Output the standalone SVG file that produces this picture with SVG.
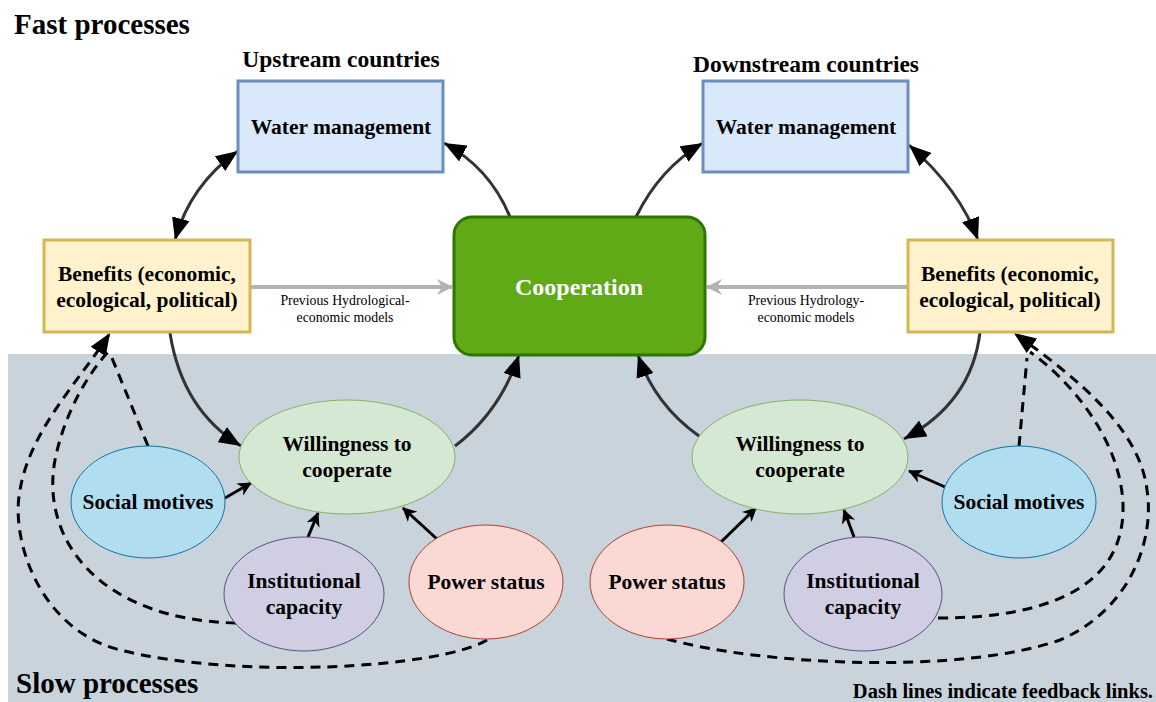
<svg xmlns="http://www.w3.org/2000/svg" width="1156" height="702" viewBox="0 0 1156 702">
<style>
text{font-family:"Liberation Serif","Times New Roman",serif;font-weight:bold;fill:#000;text-anchor:middle}
.h{font-size:29px;text-anchor:start}
.sub{font-size:23.5px}
.t{font-size:21.5px}
.sm{font-size:13.8px;font-weight:normal}
.wm{fill:#dae8fc;stroke:#6c8ebf;stroke-width:3}
.bn{fill:#fff2cc;stroke:#d6b656;stroke-width:3}
.wi{fill:#d5e8d4;stroke:#82b366;stroke-width:1}
.so{fill:#b1ddf0;stroke:#10739e;stroke-width:1}
.in{fill:#d0cee2;stroke:#56517e;stroke-width:1}
.po{fill:#fad9d5;stroke:#ae4132;stroke-width:1}
.c{fill:none;stroke:#333;stroke-width:3}
.s{fill:none;stroke:#000;stroke-width:3}
.d{fill:none;stroke:#000;stroke-width:3;stroke-dasharray:10 7}
.g{fill:none;stroke:#b3b3b3;stroke-width:4}
</style>
<defs>
<marker id="big" markerUnits="userSpaceOnUse" markerWidth="22" markerHeight="18" refX="22" refY="9" orient="auto-start-reverse"><path d="M0,0 L22,9 L0,18 z" fill="#000"/></marker>
<marker id="cls" markerUnits="userSpaceOnUse" markerWidth="14" markerHeight="14" refX="13" refY="7" orient="auto"><path d="M0,0 L14,7 L0,14 L4,7 z" fill="#000"/></marker>
<marker id="gry" markerUnits="userSpaceOnUse" markerWidth="16" markerHeight="16" refX="15" refY="8" orient="auto"><path d="M0,0 L16,8 L0,16 L5,8 z" fill="#b3b3b3"/></marker>
</defs>
<rect x="8" y="354" width="1148" height="348" fill="#c8d3dc"/>
<text class="h" x="14" y="34">Fast processes</text>
<text class="h" x="16" y="693">Slow processes</text>
<text class="sub" x="341" y="67">Upstream countries</text>
<text class="sub" x="806" y="72">Downstream countries</text>
<text x="1153" y="698" style="font-size:20.5px;text-anchor:end">Dash lines indicate feedback links.</text>

<g id="connectors">
<path class="c" d="M175 240 Q190 185 238 151" marker-start="url(#big)" marker-end="url(#big)"/>
<path class="c" d="M510 217 Q490 168 444 143" marker-end="url(#big)"/>
<path class="c" d="M636 217 Q660 168 703 143" marker-end="url(#big)"/>
<path class="c" d="M909 145 Q960 190 978 240" marker-start="url(#big)" marker-end="url(#big)"/>
<path class="c" d="M170 333 Q182 410 241 446" marker-end="url(#big)"/>
<path class="c" d="M455 446 Q500 412 519 355" marker-end="url(#big)"/>
<path class="c" d="M699 436 Q655 405 638 355" marker-end="url(#big)"/>
<path class="c" d="M980 332 Q972 402 904 439" marker-end="url(#big)"/>
<path class="g" d="M250 287 L452 287" marker-end="url(#gry)"/>
<path class="g" d="M908 287 L707 287" marker-end="url(#gry)"/>
<text class="sm" x="345" y="305">Previous Hydrological-</text>
<text class="sm" x="345" y="322">economic models</text>
<text class="sm" x="806" y="305">Previous Hydrology-</text>
<text class="sm" x="806" y="322">economic models</text>
<path class="s" d="M225 498 L251 483" marker-end="url(#cls)"/>
<path class="s" d="M308 537 L318 513" marker-end="url(#cls)"/>
<path class="s" d="M437 539 L403 508" marker-end="url(#cls)"/>
<path class="s" d="M945 487 L909 471" marker-end="url(#cls)"/>
<path class="s" d="M854 537 L844 510" marker-end="url(#cls)"/>
<path class="s" d="M721 542 L756 508" marker-end="url(#cls)"/>
<path class="d" d="M148 446 L112 358"/>
<path class="d" d="M236 623 C100 620 40 540 55 460 C65 410 90 372 108 352"/>
<path class="d" d="M487 640 C440 668 240 680 120 650 C40 630 10 540 20 490 C30 430 80 380 110 333" marker-end="url(#big)"/>
<path class="d" d="M1019 446 L1027 358"/>
<path class="d" d="M938 618 C1060 618 1125 580 1123 505 C1121 440 1070 380 1030 352"/>
<path class="d" d="M667 639 C760 665 960 675 1060 640 C1130 610 1155 540 1147 490 C1140 430 1080 380 1014 333" marker-end="url(#big)"/>
</g>

<g id="wm-up"><rect class="wm" x="238" y="81" width="205" height="91"/><text class="t" x="341" y="134">Water management</text></g>
<g id="wm-down"><rect class="wm" x="703" y="81" width="205" height="91"/><text class="t" x="806" y="134">Water management</text></g>
<g id="ben-up"><rect class="bn" x="44" y="240" width="206" height="92"/><text class="t" x="147" y="281">Benefits (economic,</text><text class="t" x="147" y="307">ecological, political)</text></g>
<g id="ben-down"><rect class="bn" x="908" y="240" width="205" height="92"/><text class="t" x="1010" y="281">Benefits (economic,</text><text class="t" x="1010" y="307">ecological, political)</text></g>
<g id="coop"><rect x="454" y="217" width="251" height="138" rx="18" fill="#60a917" stroke="#2d7600" stroke-width="3"/><text x="579" y="295" style="font-size:24px;fill:#fff">Cooperation</text></g>
<g id="will-up"><ellipse class="wi" cx="347" cy="457" rx="108" ry="57"/><text class="t" x="347" y="451">Willingness to</text><text class="t" x="347" y="477">cooperate</text></g>
<g id="will-down"><ellipse class="wi" cx="800" cy="457" rx="108" ry="57"/><text class="t" x="800" y="451">Willingness to</text><text class="t" x="800" y="477">cooperate</text></g>
<g id="soc-up"><ellipse class="so" cx="148" cy="502" rx="77" ry="56"/><text class="t" x="148" y="509">Social motives</text></g>
<g id="soc-down"><ellipse class="so" cx="1019" cy="502" rx="77" ry="56"/><text class="t" x="1019" y="509">Social motives</text></g>
<g id="inst-up"><ellipse class="in" cx="304" cy="594" rx="80" ry="57"/><text class="t" x="304" y="588">Institutional</text><text class="t" x="304" y="614">capacity</text></g>
<g id="inst-down"><ellipse class="in" cx="863" cy="594" rx="79" ry="57"/><text class="t" x="863" y="588">Institutional</text><text class="t" x="863" y="614">capacity</text></g>
<g id="pow-up"><ellipse class="po" cx="486" cy="582" rx="77" ry="57"/><text class="t" x="486" y="589">Power status</text></g>
<g id="pow-down"><ellipse class="po" cx="667" cy="582" rx="77" ry="57"/><text class="t" x="667" y="589">Power status</text></g>
</svg>
